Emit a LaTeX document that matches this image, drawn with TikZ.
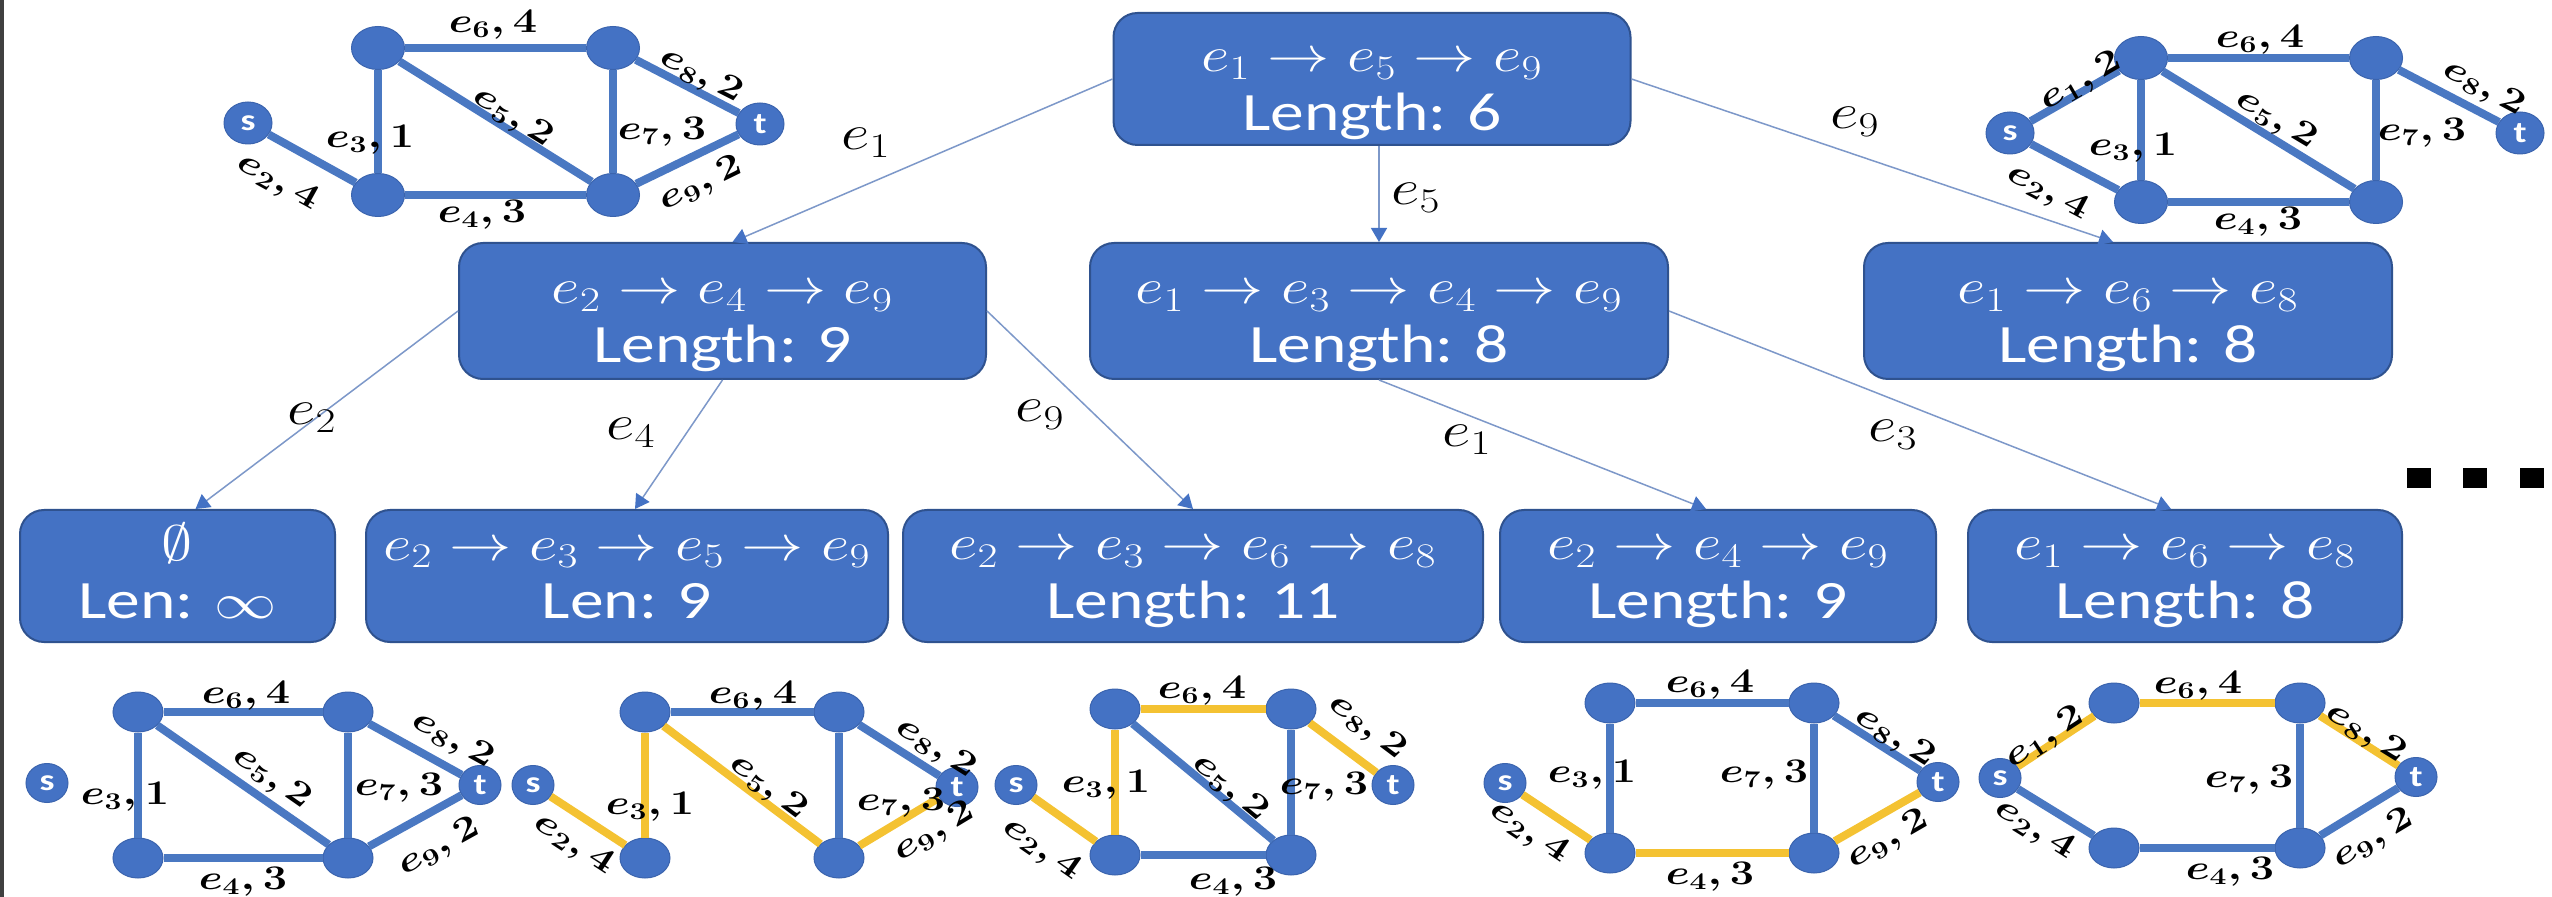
\documentclass[tikz,border=0pt]{standalone}
\usepackage{fontspec}
\setmainfont{Carlito}
\usepackage{graphicx}
\usetikzlibrary{arrows.meta,shapes.geometric,calc}
\definecolor{nblue}{HTML}{4472C4}
\definecolor{nborder}{HTML}{2F528F}
\definecolor{gborder}{HTML}{3B64AE}
\definecolor{eblue}{HTML}{4A78C2}
\definecolor{eyel}{HTML}{F4C232}
\definecolor{abl}{HTML}{7D98C9}
\newcommand\wx[1]{\scalebox{1.25}[1]{#1}}
\newcommand\bx[2]{\wx{\begin{tabular}{@{}c@{}}{\fontsize{25}{26}\selectfont #1}\\[3pt]#2\end{tabular}}}
\newcommand\el[5]{\node[gl,rotate=#4] (#1) at (#2,#3) {\wx{$#5$}};}
\begin{document}
\begin{tikzpicture}[x=0.5pt,y=-0.5pt,
  box/.style={draw=nborder, line width=1pt, fill=nblue, rounded corners=12pt, inner sep=0pt},
  btxt/.style={text=white, inner sep=0pt, font=\fontsize{27}{26}\selectfont},
  gn/.style={ellipse, fill=nblue, draw=gborder, line width=0.5pt, minimum width=26.5pt, minimum height=21.5pt, inner sep=0pt},
  gnb/.style={gn, minimum width=25pt, minimum height=20pt},
  stn/.style={gn, minimum width=24pt, minimum height=21pt, text=white, font=\fontsize{15}{15}\selectfont\bfseries},
  stnb/.style={stn, minimum width=21pt, minimum height=19.5pt},
  be/.style={line width=4pt, draw=eblue},
  ye/.style={line width=4pt, draw=eyel},
  gl/.style={font=\fontsize{17}{17}\selectfont\boldmath, inner sep=0pt},
  tl/.style={font=\fontsize{25}{25}\selectfont, inner sep=0pt},
  arr/.style={draw=abl, line width=0.75pt, -{Triangle[length=7pt,width=8pt,fill=nblue,color=nblue]}},
]
\useasboundingbox (0,0) rectangle (2552,897);
\fill[white] (0,0) rectangle (2552,897);
\fill[black!75] (0,0) rectangle (4,897);

% ---------- tree boxes ----------
\node[box, minimum width=258.5pt, minimum height=66pt] (top) at (1372,79) {};
\node[box, minimum width=263.5pt, minimum height=68pt] (A) at (722.5,311) {};
\node[box, minimum width=289pt, minimum height=68pt] (B) at (1379,311) {};
\node[box, minimum width=264pt, minimum height=68pt] (C) at (2128,311) {};
\node[box, minimum width=157.5pt, minimum height=66pt] (E0) at (177.5,576) {};
\node[box, minimum width=261pt, minimum height=66pt] (E1) at (627,576) {};
\node[box, minimum width=290pt, minimum height=66pt] (E2) at (1193,576) {};
\node[box, minimum width=218pt, minimum height=66pt] (E3) at (1718,576) {};
\node[box, minimum width=217pt, minimum height=66pt] (E4) at (2185,576) {};

\node[btxt] (topT) at ($(top.center)+(0,12)$) {\bx{$e_1\rightarrow e_5\rightarrow e_9$}{Length: 6}};
\node[btxt] (AT) at ($(A.center)+(0,12)$) {\bx{$e_2\rightarrow e_4\rightarrow e_9$}{Length: 9}};
\node[btxt] (BT) at ($(B.center)+(0,12)$) {\bx{$e_1\rightarrow e_3\rightarrow e_4\rightarrow e_9$}{Length: 8}};
\node[btxt] (CT) at ($(C.center)+(0,12)$) {\bx{$e_1\rightarrow e_6\rightarrow e_8$}{Length: 8}};
\node[btxt] (E0T) at ($(E0.center)+(0,3)$) {\bx{$\emptyset$}{Len: $\infty$}};
\node[btxt] (E1T) at ($(E1.center)+(0,3)$) {\bx{$e_2\rightarrow e_3\rightarrow e_5\rightarrow e_9$}{Len: 9}};
\node[btxt] (E2T) at ($(E2.center)+(0,3)$) {\bx{$e_2\rightarrow e_3\rightarrow e_6\rightarrow e_8$}{Length: 11}};
\node[btxt] (E3T) at ($(E3.center)+(0,3)$) {\bx{$e_2\rightarrow e_4\rightarrow e_9$}{Length: 9}};
\node[btxt] (E4T) at ($(E4.center)+(0,3)$) {\bx{$e_1\rightarrow e_6\rightarrow e_8$}{Length: 8}};

% ---------- tree arrows ----------
\draw[arr] (top.west) -- ($(A.north)+(10,0)$);
\draw[arr] (B.north |- top.south) -- (B.north);
\draw[arr] (top.east) -- ($(C.north)+(-15,0)$);
\draw[arr] (A.west) -- ($(E0.north)+(18,0)$);
\draw[arr] (A.south) -- ($(E1.north)+(8,0)$);
\draw[arr] (A.east) -- (E2.north);
\draw[arr] (B.south) -- ($(E3.north)+(-12,0)$);
\draw[arr] (B.east) -- ($(E4.north)+(-14,0)$);

\node[tl] (t1) at (866,143) {\wx{$e_1$}};
\node[tl] (t5) at (1416,198) {\wx{$e_5$}};
\node[tl] (t9) at (1855,122) {\wx{$e_9$}};
\node[tl] (u2) at (312,418) {\wx{$e_2$}};
\node[tl] (u4) at (631,433) {\wx{$e_4$}};
\node[tl] (u9) at (1040,415) {\wx{$e_9$}};
\node[tl] (v1) at (1467,440) {\wx{$e_1$}};
\node[tl] (v3) at (1893,435) {\wx{$e_3$}};

% dots
\fill[black] (2407,468) rectangle (2431,488);
\fill[black] (2463,468) rectangle (2487,488);
\fill[black] (2520,468) rectangle (2544,488);

% ---------- top-left graph ----------
\node[stn] (a-s) at (248,123) {\wx{s}};
\node[gn] (a-A) at (378,48) {};
\node[gn] (a-B) at (613,48) {};
\node[gn] (a-C) at (378,195) {};
\node[gn] (a-D) at (613,195) {};
\node[stn] (a-t) at (760,124) {\wx{t}};
\draw[be] (a-s) -- (a-C);
\draw[be] (a-A) -- (a-C);
\draw[be] (a-A) -- (a-B);
\draw[be] (a-A) -- (a-D);
\draw[be] (a-B) -- (a-D);
\draw[be] (a-C) -- (a-D);
\draw[be] (a-B) -- (a-t);
\draw[be] (a-D) -- (a-t);
\el{a-l6}{493}{25}{0}{e_6, 4}
\el{a-l3}{370}{140}{0}{e_3, 1}
\el{a-l5}{513}{117}{-32}{e_5, 2}
\el{a-l7}{662}{132}{0}{e_7, 3}
\el{a-l8}{701}{76}{-27}{e_8, 2}
\el{a-l9}{701}{184}{26}{e_9, 2}
\el{a-l2}{278}{182}{-29}{e_2, 4}
\el{a-l4}{482}{215}{0}{e_4, 3}

% ---------- top-right graph ----------
\node[stn] (b-s) at (2010,133) {\wx{s}};
\node[gn] (b-A) at (2141,58) {};
\node[gn] (b-B) at (2376,58) {};
\node[gn] (b-C) at (2141,202) {};
\node[gn] (b-D) at (2376,202) {};
\node[stn] (b-t) at (2520,133) {\wx{t}};
\draw[be] (b-s) -- (b-A);
\draw[be] (b-s) -- (b-C);
\draw[be] (b-A) -- (b-C);
\draw[be] (b-A) -- (b-B);
\draw[be] (b-A) -- (b-D);
\draw[be] (b-B) -- (b-D);
\draw[be] (b-C) -- (b-D);
\draw[be] (b-B) -- (b-t);
\el{b-l1}{2081}{82}{30}{e_1, 2}
\el{b-l6}{2260}{40}{0}{e_6, 4}
\el{b-l3}{2133}{148}{0}{e_3, 1}
\el{b-l5}{2276}{120}{-31}{e_5, 2}
\el{b-l7}{2422}{133}{0}{e_7, 3}
\el{b-l8}{2484}{88}{-28}{e_8, 2}
\el{b-l2}{2048}{192}{-28}{e_2, 4}
\el{b-l4}{2258}{222}{0}{e_4, 3}

% ---------- bottom graph 1 ----------
\node[stnb] (c-s) at (47,783) {\wx{s}};
\node[gnb] (c-A) at (138,712) {};
\node[gnb] (c-B) at (348,712) {};
\node[gnb] (c-C) at (138,858) {};
\node[gnb] (c-D) at (348,858) {};
\node[stnb] (c-t) at (480,785) {\wx{t}};
\draw[be] (c-A) -- (c-C);
\draw[be] (c-A) -- (c-B);
\draw[be] (c-A) -- (c-D);
\draw[be] (c-B) -- (c-D);
\draw[be] (c-C) -- (c-D);
\draw[be] (c-B) -- (c-t);
\draw[be] (c-D) -- (c-t);
\el{c-l6}{246}{696}{0}{e_6, 4}
\el{c-l3}{125}{797}{0}{e_3, 1}
\el{c-l5}{272}{778}{-35}{e_5, 2}
\el{c-l7}{399}{788}{0}{e_7, 3}
\el{c-l8}{453}{740}{-29}{e_8, 2}
\el{c-l9}{439}{847}{29}{e_9, 2}
\el{c-l4}{243}{882}{0}{e_4, 3}

% ---------- bottom graph 2 ----------
\node[stnb] (d-s) at (533,785) {\wx{s}};
\node[gnb] (d-A) at (645,712) {};
\node[gnb] (d-B) at (839,712) {};
\node[gnb] (d-C) at (645,858) {};
\node[gnb] (d-D) at (839,858) {};
\node[stnb] (d-t) at (957,787) {\wx{t}};
\draw[ye] (d-s) -- (d-C);
\draw[ye] (d-A) -- (d-C);
\draw[be] (d-A) -- (d-B);
\draw[ye] (d-A) -- (d-D);
\draw[be] (d-B) -- (d-D);
\draw[be] (d-B) -- (d-t);
\draw[ye] (d-D) -- (d-t);
\el{d-l6}{753}{696}{0}{e_6, 4}
\el{d-l3}{650}{807}{0}{e_3, 1}
\el{d-l5}{768}{787}{-37}{e_5, 2}
\el{d-l7}{901}{803}{0}{e_7, 3}
\el{d-l8}{936}{748}{-32}{e_8, 2}
\el{d-l9}{934}{832}{31}{e_9, 2}
\el{d-l2}{574}{844}{-33}{e_2, 4}

% ---------- bottom graph 3 ----------
\node[stnb] (f-s) at (1016,785) {\wx{s}};
\node[gnb] (f-A) at (1115,709) {};
\node[gnb] (f-B) at (1291,709) {};
\node[gnb] (f-C) at (1115,855) {};
\node[gnb] (f-D) at (1291,855) {};
\node[stnb] (f-t) at (1393,785) {\wx{t}};
\draw[ye] (f-s) -- (f-C);
\draw[ye] (f-A) -- (f-C);
\draw[ye] (f-A) -- (f-B);
\draw[be] (f-A) -- (f-D);
\draw[be] (f-B) -- (f-D);
\draw[be] (f-C) -- (f-D);
\draw[ye] (f-B) -- (f-t);
\el{f-l6}{1202}{691}{0}{e_6, 4}
\el{f-l3}{1106}{785}{0}{e_3, 1}
\el{f-l5}{1230}{788}{-40}{e_5, 2}
\el{f-l7}{1324}{787}{0}{e_7, 3}
\el{f-l8}{1367}{727}{-37}{e_8, 2}
\el{f-l2}{1042}{849}{-35}{e_2, 4}
\el{f-l4}{1233}{882}{0}{e_4, 3}

% ---------- bottom graph 4 ----------
\node[stnb] (g-s) at (1505,783) {\wx{s}};
\node[gnb] (g-A) at (1610,703) {};
\node[gnb] (g-B) at (1814,703) {};
\node[gnb] (g-C) at (1610,853) {};
\node[gnb] (g-D) at (1814,853) {};
\node[stnb] (g-t) at (1938,782) {\wx{t}};
\draw[ye] (g-s) -- (g-C);
\draw[be] (g-A) -- (g-C);
\draw[be] (g-A) -- (g-B);
\draw[be] (g-B) -- (g-D);
\draw[ye] (g-C) -- (g-D);
\draw[be] (g-B) -- (g-t);
\draw[ye] (g-D) -- (g-t);
\el{g-l6}{1710}{685}{0}{e_6, 4}
\el{g-l3}{1592}{775}{0}{e_3, 1}
\el{g-l7}{1764}{775}{0}{e_7, 3}
\el{g-l8}{1895}{737}{-32}{e_8, 2}
\el{g-l9}{1888}{840}{30}{e_9, 2}
\el{g-l2}{1529}{832}{-34}{e_2, 4}
\el{g-l4}{1710}{877}{0}{e_4, 3}

% ---------- bottom graph 5 ----------
\node[stnb] (h-s) at (2000,778) {\wx{s}};
\node[gnb] (h-A) at (2114,703) {};
\node[gnb] (h-B) at (2300,703) {};
\node[gnb] (h-C) at (2114,848) {};
\node[gnb] (h-D) at (2300,848) {};
\node[stnb] (h-t) at (2416,777) {\wx{t}};
\draw[ye] (h-s) -- (h-A);
\draw[be] (h-s) -- (h-C);
\draw[ye] (h-A) -- (h-B);
\draw[be] (h-B) -- (h-D);
\draw[be] (h-C) -- (h-D);
\draw[ye] (h-B) -- (h-t);
\draw[be] (h-D) -- (h-t);
\el{h-l1}{2045}{738}{33}{e_1, 2}
\el{h-l6}{2198}{686}{0}{e_6, 4}
\el{h-l7}{2249}{780}{0}{e_7, 3}
\el{h-l8}{2366}{733}{-32}{e_8, 2}
\el{h-l9}{2373}{839}{31}{e_9, 2}
\el{h-l2}{2035}{829}{-32}{e_2, 4}
\el{h-l4}{2230}{872}{0}{e_4, 3}
\end{tikzpicture}
\end{document}
